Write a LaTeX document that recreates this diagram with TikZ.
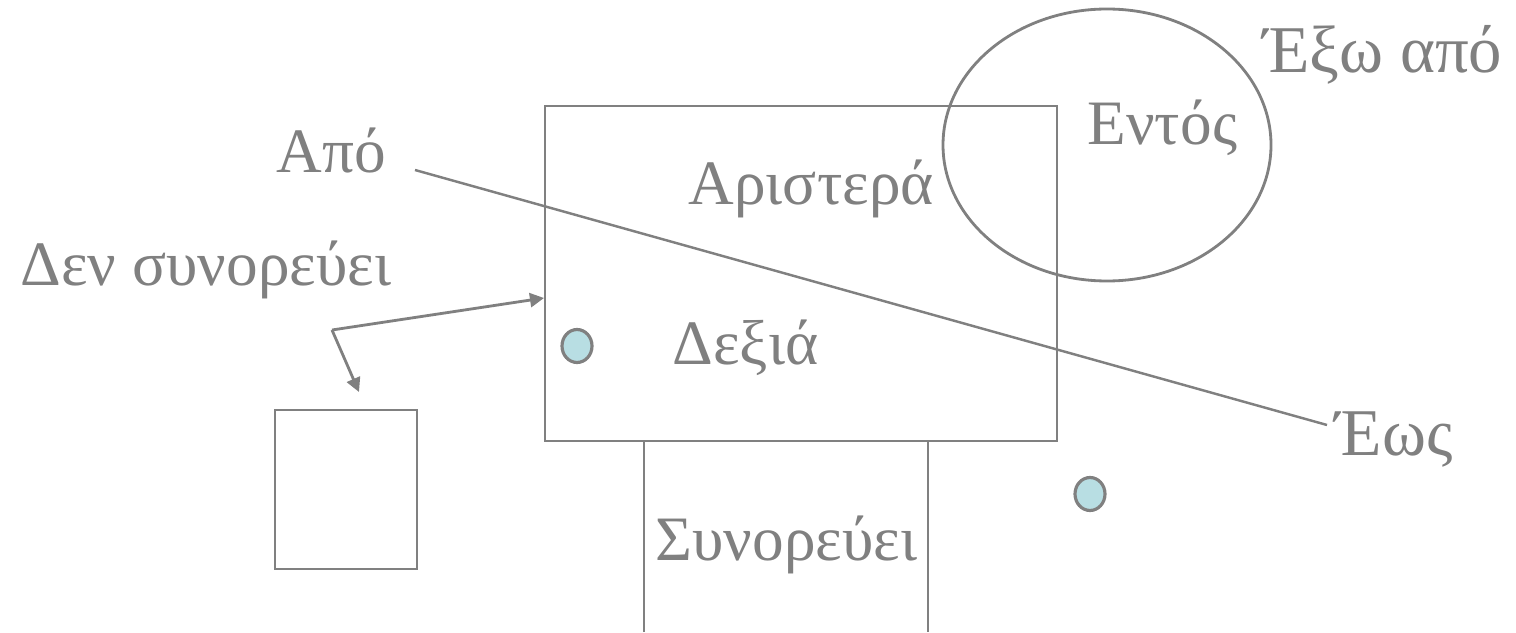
\documentclass[tikz,border=0pt]{standalone}
\usepackage{fontspec}
\setmainfont{Liberation Serif}
\usepackage{tikz}
\usetikzlibrary{shapes.geometric,arrows.meta,positioning,calc}
\definecolor{linegray}{HTML}{808080}
\definecolor{dotcyan}{HTML}{B8DEE3}

\begin{document}
\begin{tikzpicture}[
    region/.style={rectangle, draw=linegray, line width=0.8pt, inner sep=0pt},
    spot/.style={ellipse, draw=linegray, fill=dotcyan, line width=0.9pt, minimum width=0.3cm, minimum height=0.33cm, inner sep=0pt},
    word/.style={text=linegray, inner sep=0pt, anchor=base west, font=\fontsize{18}{21}\selectfont},
    bigword/.style={word, font=\fontsize{19}{22}\selectfont},
    pointer/.style={-{Triangle[length=4pt, width=4pt]}, draw=linegray, line width=0.8pt},
    ray/.style={draw=linegray, line width=0.7pt}
]
    \useasboundingbox (0,0) rectangle (15.16,6.32);

    % regions
    \node[region, minimum width=5.12cm, minimum height=3.35cm] (main) at (8.01,3.585) {};
    \node[region, minimum width=1.42cm, minimum height=1.59cm] (apart) at (3.46,1.425) {};
    \node[ellipse, draw=linegray, line width=0.8pt, minimum width=3.28cm, minimum height=2.72cm, inner sep=0pt] (inside) at (11.07,4.87) {};
    \draw[region] (6.44,0) -- (6.44,1.91) -- (9.28,1.91) -- (9.28,0);

    % points
    \node[spot] (dotA) at (5.77,2.86) {};
    \node[spot] (dotB) at (10.90,1.38) {};

    % texts
    \node[word] (from) at (2.76,4.59) {Από};
    \node[word] (notadj) at (0.20,3.47) {Δεν συνορεύει};
    \node[word] (left) at (6.88,4.27) {Αριστερά};
    \node[word] (right) at (6.72,2.67) {Δεξιά};
    \node[word] (within) at (10.87,4.87) {Εντός};
    \node[word] (adj) at (6.55,0.72) {Συνορεύει};
    \node[bigword, anchor=base east] (outside) at (15.03,5.59) {Έξω από};
    \node[bigword] (until) at (13.35,1.77) {Έως};

    % connectors
    \coordinate (rayA) at (4.15,4.62);
    \coordinate (rayB) at (13.27,2.07);
    \draw[ray] (rayA) -- (rayB);

    \coordinate (bend) at (3.32,3.02);
    \coordinate (tipA) at (5.44,3.34);
    \coordinate (tipB) at (3.59,2.40);
    \draw[pointer] (bend) -- (tipA);
    \draw[pointer] (bend) -- (tipB);
\end{tikzpicture}
\end{document}
